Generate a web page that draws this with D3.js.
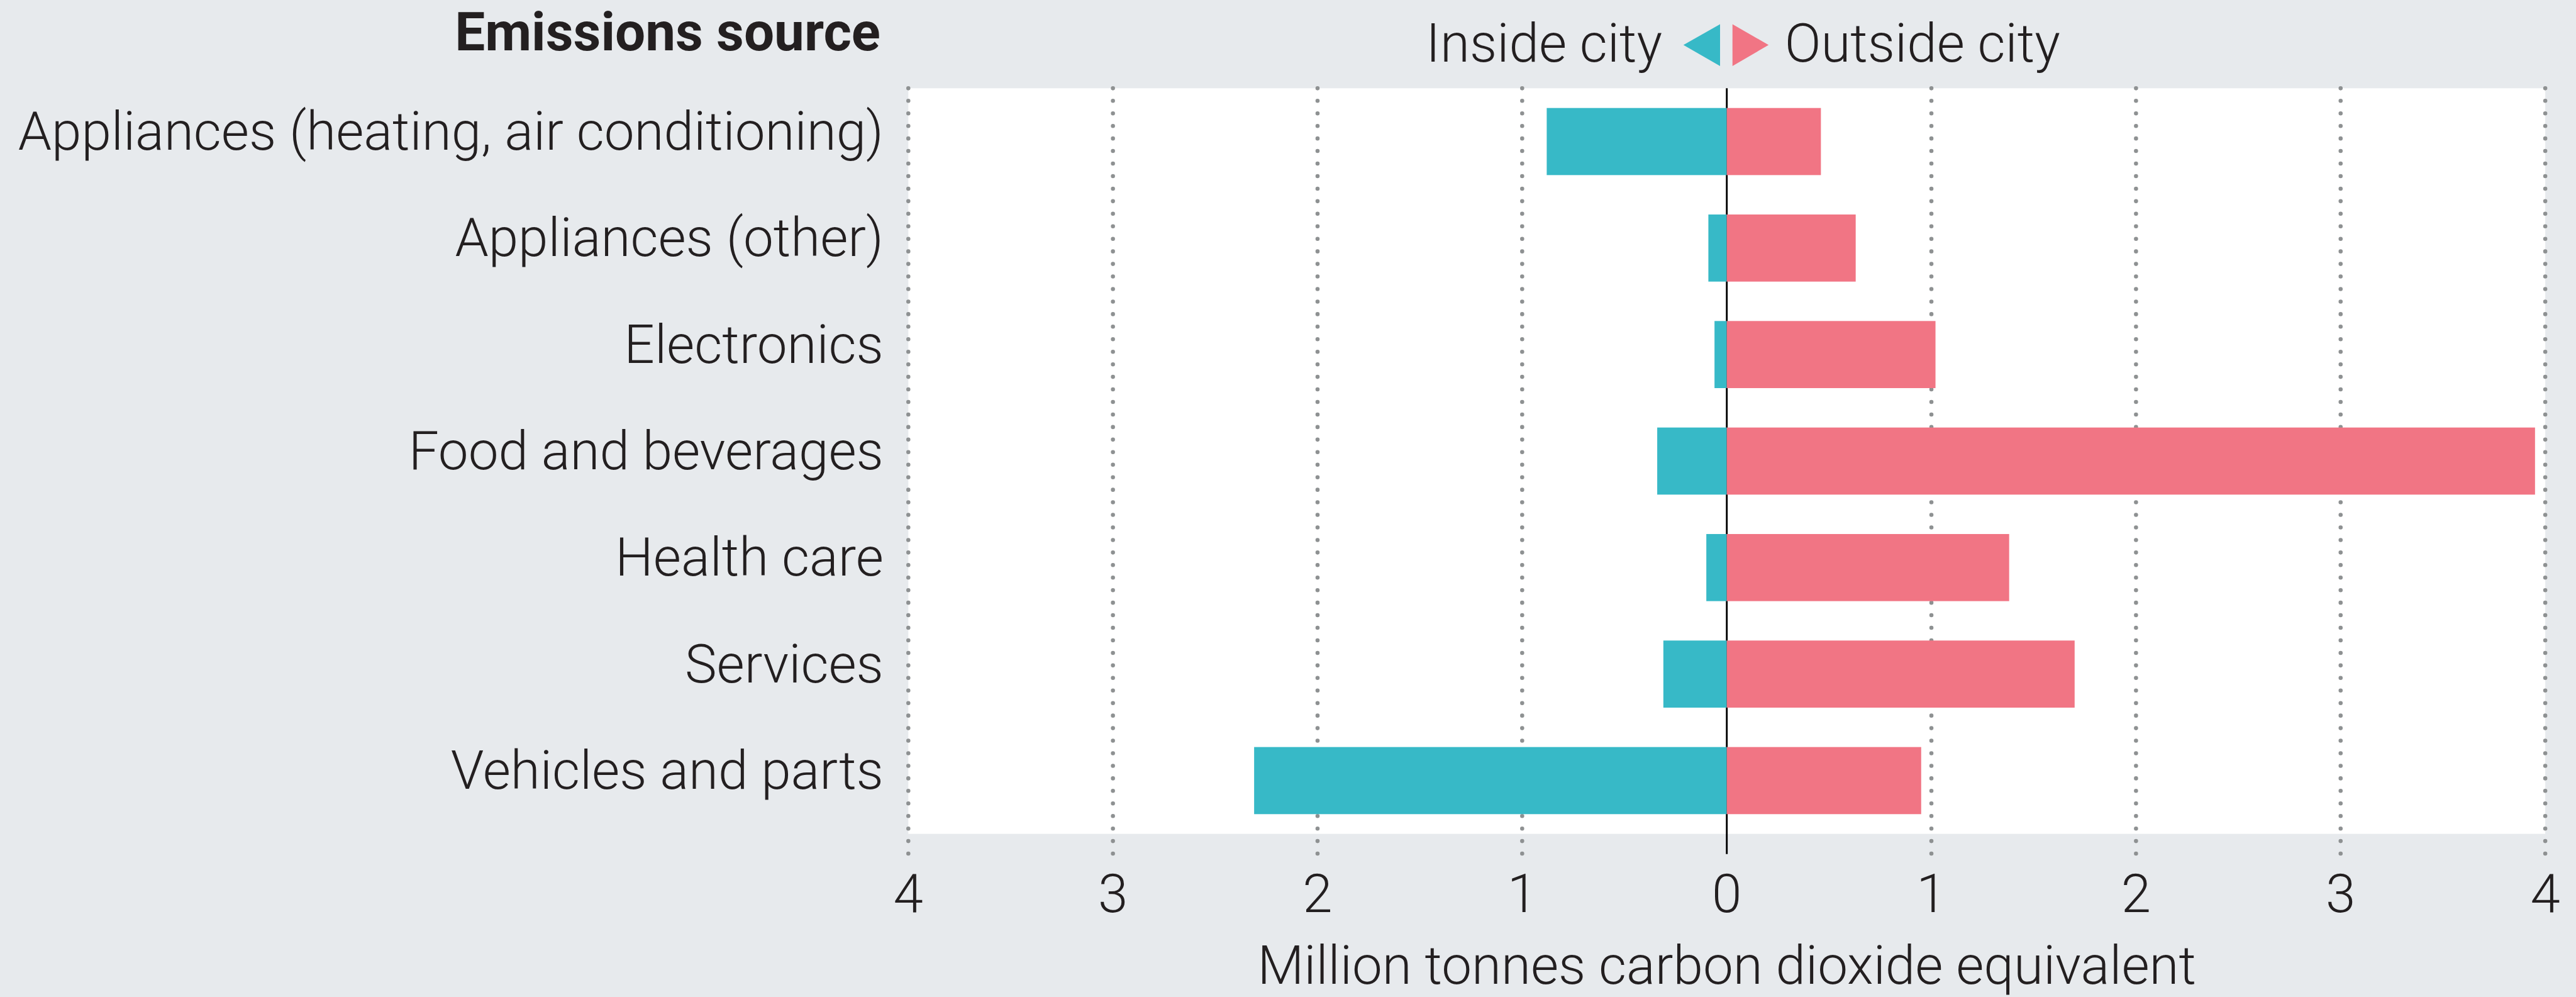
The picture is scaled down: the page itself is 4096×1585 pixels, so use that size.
<!DOCTYPE html>
<html>
<head>
<meta charset="utf-8">
<script src="https://cdn.jsdelivr.net/npm/d3@7"></script>
<style>
  html, body { margin: 0; padding: 0; background: #e7eaed; }
  svg { display: block; }
  text { font-family: Roboto, "Open Sans", sans-serif; fill: #231f20; }
</style>
</head>
<body>
<svg id="chart"></svg>
<script>
const categories = [
  'Appliances (heating, air conditioning)',
  'Appliances (other)',
  'Electronics',
  'Food and beverages',
  'Health care',
  'Services',
  'Vehicles and parts'
]
const insideCity = [0.88, 0.09, 0.06, 0.34, 0.10, 0.31, 2.31]
const outsideCity = [0.46, 0.63, 1.02, 3.95, 1.38, 1.70, 0.95]
const tickValues = [-4, -3, -2, -1, 0, 1, 2, 3, 4]

const teal = '#37b9c7'
const pink = '#f17584'

// work in the reference's pixel space and let the viewBox shrink it
const W = 4989
const H = 1931

const svg = d3.select('#chart')
  .attr('width', 4096)
  .attr('height', 1585)
  .attr('viewBox', `0 0 ${W} ${H}`)

svg.append('rect').attr('width', W).attr('height', H).attr('fill', '#e7eaed')

const x = d3.scaleLinear().domain([-4, 4]).range([1759, 4930])
const y = d3.scaleBand().domain(categories).range([171, 1615])
  .paddingInner(0.37).paddingOuter(0.185)

const gridBottom = 1654
const fontSize = 104

function label(g, str, px, py, anchor, opts = {}) {
  return g.append('text')
    .attr('x', px)
    .attr('y', py)
    .attr('text-anchor', anchor)
    .attr('font-size', opts.size || fontSize)
    .attr('font-weight', opts.weight || 300)
    .text(str)
}

// white plot panel
svg.append('rect')
  .attr('x', x(-4)).attr('y', y.range()[0])
  .attr('width', x(4) - x(-4)).attr('height', y.range()[1] - y.range()[0])
  .attr('fill', '#fff')

// dotted gridlines
svg.append('g')
  .selectAll('line')
  .data(tickValues.filter(d => d !== 0))
  .join('line')
  .attr('x1', d => x(d)).attr('x2', d => x(d))
  .attr('y1', y.range()[0]).attr('y2', gridBottom)
  .attr('stroke', '#8e9192')
  .attr('stroke-width', 8)
  .attr('stroke-linecap', 'round')
  .attr('stroke-dasharray', '0 24.3')

// zero line
svg.append('line')
  .attr('x1', x(0)).attr('x2', x(0))
  .attr('y1', y.range()[0]).attr('y2', gridBottom)
  .attr('stroke', '#000').attr('stroke-width', 3.5)

const rows = categories.map((c, i) => ({ c, inside: insideCity[i], outside: outsideCity[i] }))

svg.append('g')
  .selectAll('rect')
  .data(rows)
  .join('rect')
  .attr('x', d => x(-d.inside))
  .attr('y', d => y(d.c))
  .attr('width', d => x(0) - x(-d.inside))
  .attr('height', y.bandwidth())
  .attr('fill', teal)

svg.append('g')
  .selectAll('rect')
  .data(rows)
  .join('rect')
  .attr('x', x(0))
  .attr('y', d => y(d.c))
  .attr('width', d => x(d.outside) - x(0))
  .attr('height', y.bandwidth())
  .attr('fill', pink)

// category labels
const labels = svg.append('g')
categories.forEach(c => {
  label(labels, c, 1711, y(c) + y.bandwidth() / 2 + 16, 'end')
})

// x axis tick labels
const axisG = svg.append('g')
tickValues.forEach(v => {
  label(axisG, String(Math.abs(v)), x(v), 1767, 'middle')
})
label(axisG, 'Million tonnes carbon dioxide equivalent', x(0), 1906, 'middle')

// header and legend
label(svg, 'Emissions source', 1705, 98, 'end', { weight: 700 })

const x0 = x(0)
svg.append('path')
  .attr('d', `M${x0 - 84},87 L${x0 - 13},47 L${x0 - 13},128 Z`)
  .attr('fill', teal)
svg.append('path')
  .attr('d', `M${x0 + 11},47 L${x0 + 81},87 L${x0 + 11},128 Z`)
  .attr('fill', pink)
label(svg, 'Inside city', x0 - 125, 120, 'end')
label(svg, 'Outside city', x0 + 112, 120, 'start')
</script>
</body>
</html>
